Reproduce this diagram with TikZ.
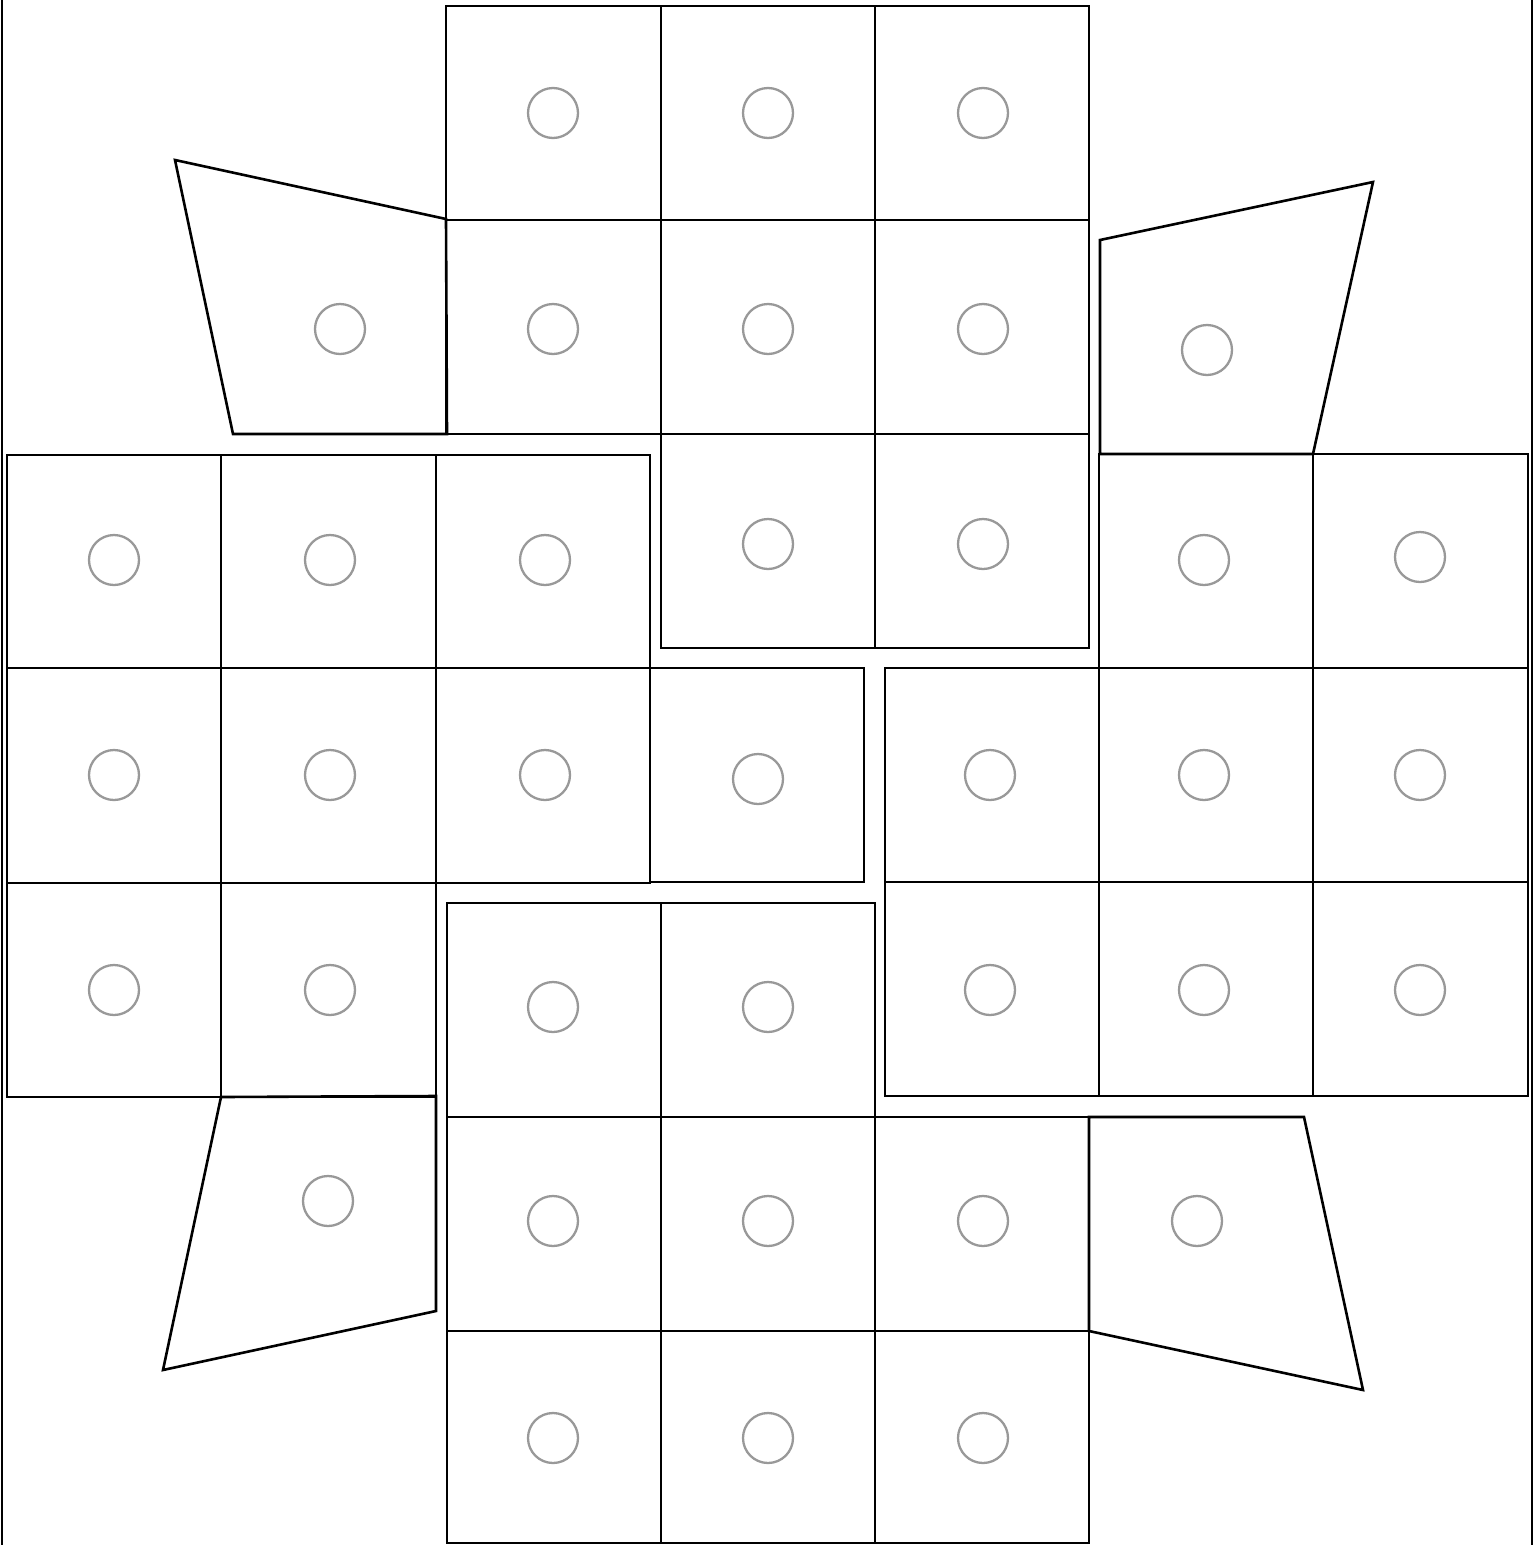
\documentclass[tikz,border=0pt]{standalone}
\usetikzlibrary{calc}
\definecolor{holegray}{HTML}{999999}
\begin{document}
\begin{tikzpicture}[x=1pt,y=-1pt,
  cell/.style={draw=black,line width=2.6pt,line join=miter},
  hole/.style={circle,draw=holegray,line width=2.3pt,minimum size=50pt,inner sep=0pt},
  frameline/.style={draw=black,line width=2.8pt}]
\useasboundingbox (0,0) rectangle (1539,1545);
% outer side lines
\coordinate (fl1) at (2,0); \coordinate (fl2) at (2,1545);
\coordinate (fr1) at (1532,0); \coordinate (fr2) at (1532,1545);
\draw[frameline] (fl1) -- (fl2);
\draw[frameline] (fr1) -- (fr2);

% top group
\foreach \xa/\xb in {446/661,661/875,875/1089}{
  \draw[cell] (\xa,6) rectangle (\xb,220);
  \draw[cell] (\xa,220) rectangle (\xb,434);}
\foreach \xa/\xb in {661/875,875/1089}{
  \draw[cell] (\xa,434) rectangle (\xb,648);}

% left group
\foreach \xa/\xb in {7/221,221/436,436/650}{
  \draw[cell] (\xa,455) rectangle (\xb,668);
  \draw[cell] (\xa,668) rectangle (\xb,883);}
\foreach \xa/\xb in {7/221,221/436}{
  \draw[cell] (\xa,883) rectangle (\xb,1097);}
\draw[cell] (650,668) rectangle (864,882);

% bottom group
\foreach \xa/\xb in {447/661,661/875}{
  \draw[cell] (\xa,903) rectangle (\xb,1117);}
\foreach \xa/\xb in {447/661,661/875,875/1089}{
  \draw[cell] (\xa,1117) rectangle (\xb,1331);
  \draw[cell] (\xa,1331) rectangle (\xb,1543);}

% right group
\foreach \xa/\xb in {1099/1313,1313/1528}{
  \draw[cell] (\xa,454) rectangle (\xb,668);}
\foreach \xa/\xb in {885/1099,1099/1313,1313/1528}{
  \draw[cell] (\xa,668) rectangle (\xb,882);
  \draw[cell] (\xa,882) rectangle (\xb,1096);}

% trapezoids
\draw[cell] (175,160) -- (446,219) -- (447,434) -- (233,434) -- cycle;
\draw[cell] (1100,240) -- (1373,182) -- (1313,454) -- (1100,454) -- cycle;
\draw[cell] (221,1097) -- (436,1096) -- (436,1311) -- (163,1370) -- cycle;
\draw[cell] (1089,1117) -- (1304,1117) -- (1363,1390) -- (1089,1331) -- cycle;

% holes
\node[hole] (t11) at (553,113) {};
\node[hole] (t12) at (768,113) {};
\node[hole] (t13) at (983,113) {};
\node[hole] (t21) at (553,329) {};
\node[hole] (t22) at (768,329) {};
\node[hole] (t23) at (983,329) {};
\node[hole] (t32) at (768,544) {};
\node[hole] (t33) at (983,544) {};
\node[hole] (tl) at (340,329) {};
\node[hole] (tr) at (1207,350) {};

\node[hole] (l11) at (114,560) {};
\node[hole] (l12) at (330,560) {};
\node[hole] (l13) at (545,560) {};
\node[hole] (l21) at (114,775) {};
\node[hole] (l22) at (330,775) {};
\node[hole] (l23) at (545,775) {};
\node[hole] (mid) at (758,779) {};
\node[hole] (l31) at (114,990) {};
\node[hole] (l32) at (330,990) {};
\node[hole] (bl) at (328,1201) {};

\node[hole] (b11) at (553,1007) {};
\node[hole] (b12) at (768,1007) {};
\node[hole] (b21) at (553,1221) {};
\node[hole] (b22) at (768,1221) {};
\node[hole] (b23) at (983,1221) {};
\node[hole] (b31) at (553,1438) {};
\node[hole] (b32) at (768,1438) {};
\node[hole] (b33) at (983,1438) {};
\node[hole] (br) at (1197,1221) {};

\node[hole] (r12) at (1204,560) {};
\node[hole] (r13) at (1420,557) {};
\node[hole] (r21) at (990,775) {};
\node[hole] (r22) at (1204,775) {};
\node[hole] (r23) at (1420,775) {};
\node[hole] (r31) at (990,990) {};
\node[hole] (r32) at (1204,990) {};
\node[hole] (r33) at (1420,990) {};
\end{tikzpicture}
\end{document}
